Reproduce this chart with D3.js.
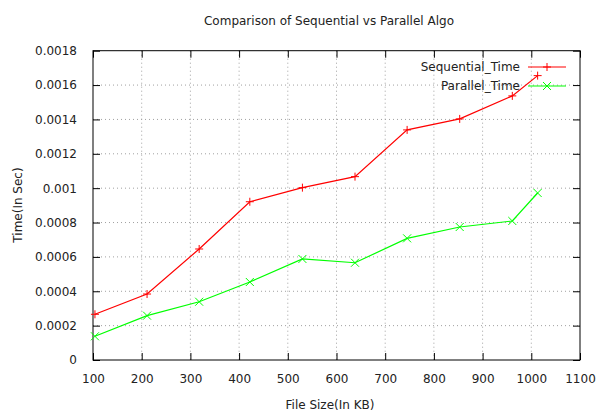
<!DOCTYPE html>
<html><head><meta charset="utf-8">
<script src="https://cdn.jsdelivr.net/npm/d3@7/dist/d3.min.js"></script>
<style>body{margin:0;background:#fff}svg{display:block}text{font-family:"DejaVu Sans",sans-serif;fill:#222}</style>
</head><body><svg id="c" width="598" height="414"></svg>
<script>
const fileSizes = [104, 211, 318, 422, 530, 638, 745, 853, 961, 1013];
const sequentialTime = [0.000266, 0.000384, 0.000646, 0.000921, 0.001003, 0.001067, 0.001339, 0.001403, 0.001537, 0.001655];
const parallelTime = [0.000138, 0.000258, 0.000339, 0.000454, 0.000588, 0.000566, 0.000708, 0.000774, 0.000809, 0.000972];
const xTicks = [100, 200, 300, 400, 500, 600, 700, 800, 900, 1000, 1100];
const yTicks = [0, 0.0002, 0.0004, 0.0006, 0.0008, 0.001, 0.0012, 0.0014, 0.0016, 0.0018];
const yTickLabels = ["0", "0.0002", "0.0004", "0.0006", "0.0008", "0.001", "0.0012", "0.0014", "0.0016", "0.0018"];
const seriesNames = ["Sequential_Time", "Parallel_Time"];
const seriesColors = ["#ff0000", "#00ff00"];

const L = 93, R = 580, T = 50.7, B = 360;
const svg = d3.select("#c");
const x = d3.scaleLinear().domain([100, 1100]).range([L, R]);
const y = d3.scaleLinear().domain([0, 0.0018]).range([B, T]);

// grid
const g = svg.append("g");
xTicks.slice(1, -1).forEach(v => g.append("line").attr("x1", x(v)).attr("x2", x(v)).attr("y1", T).attr("y2", B)
  .attr("stroke", "#a0a0a0").attr("stroke-width", 1).attr("stroke-dasharray", "1,3"));
yTicks.slice(1, -1).forEach(v => g.append("line").attr("x1", L).attr("x2", R).attr("y1", y(v)).attr("y2", y(v))
  .attr("stroke", "#a0a0a0").attr("stroke-width", 1).attr("stroke-dasharray", "1,3"));

// axes with mirrored inward ticks
const tl = 7;
const xb = svg.append("g").attr("transform", `translate(0,${B})`)
  .call(d3.axisBottom(x).tickValues(xTicks).tickSize(-tl).tickPadding(14).tickFormat(d3.format("d")));
const xt = svg.append("g").attr("transform", `translate(0,${T})`)
  .call(d3.axisTop(x).tickValues(xTicks).tickSize(-tl).tickFormat(""));
const yl = svg.append("g").attr("transform", `translate(${L},0)`)
  .call(d3.axisLeft(y).tickValues(yTicks).tickSize(-tl).tickPadding(16).tickFormat((d, i) => yTickLabels[i]));
const yr = svg.append("g").attr("transform", `translate(${R},0)`)
  .call(d3.axisRight(y).tickValues(yTicks).tickSize(-tl).tickFormat(""));
[xb, xt, yl, yr].forEach(a => {
  a.select(".domain").remove();
  a.selectAll("line").attr("stroke", "#000");
  a.selectAll("text").attr("font-size", 12).attr("font-family", "DejaVu Sans").attr("fill", "#222");
});
svg.append("rect").attr("x", L).attr("y", T).attr("width", R - L).attr("height", B - T)
  .attr("fill", "none").attr("stroke", "#000").attr("stroke-width", 1);

// series
const series = [sequentialTime, parallelTime];
const line = d3.line().x(d => x(d[0])).y(d => y(d[1]));
function marker(sel, cx, cy, k, color) {
  const s = 4;
  if (k === 0) {
    sel.append("path").attr("d", `M${cx - s},${cy}H${cx + s}M${cx},${cy - s}V${cy + s}`).attr("stroke", color).attr("stroke-width", 1);
  } else {
    sel.append("path").attr("d", `M${cx - s},${cy - s}L${cx + s},${cy + s}M${cx - s},${cy + s}L${cx + s},${cy - s}`).attr("stroke", color).attr("stroke-width", 1);
  }
}
series.forEach((vals, k) => {
  const pts = fileSizes.map((f, i) => [f, vals[i]]);
  svg.append("path").attr("d", line(pts)).attr("fill", "none").attr("stroke", seriesColors[k]).attr("stroke-width", 1.2);
  const mg = svg.append("g");
  pts.forEach(p => marker(mg, x(p[0]), y(p[1]), k, seriesColors[k]));
});

// legend
seriesNames.forEach((n, k) => {
  const ly = 67 + k * 19;
  svg.append("text").attr("x", 520).attr("y", ly).attr("dy", "0.35em").attr("text-anchor", "end")
    .attr("font-size", 12).text(n);
  svg.append("line").attr("x1", 528).attr("x2", 566).attr("y1", ly).attr("y2", ly)
    .attr("stroke", seriesColors[k]).attr("stroke-width", 1.2);
  const mg = svg.append("g");
  marker(mg, 547, ly, k, seriesColors[k]);
});

// title and labels
svg.append("text").attr("x", 329).attr("y", 21).attr("dy", "0.35em").attr("text-anchor", "middle")
  .attr("font-size", 12).text("Comparison of Sequential vs Parallel Algo");
svg.append("text").attr("x", 330).attr("y", 405).attr("dy", "0.35em").attr("text-anchor", "middle")
  .attr("font-size", 12).text("File Size(In KB)");
svg.append("text").attr("transform", "translate(18,205) rotate(-90)").attr("dy", "0.35em").attr("text-anchor", "middle")
  .attr("font-size", 12).text("Time(In Sec)");
</script></body></html>
